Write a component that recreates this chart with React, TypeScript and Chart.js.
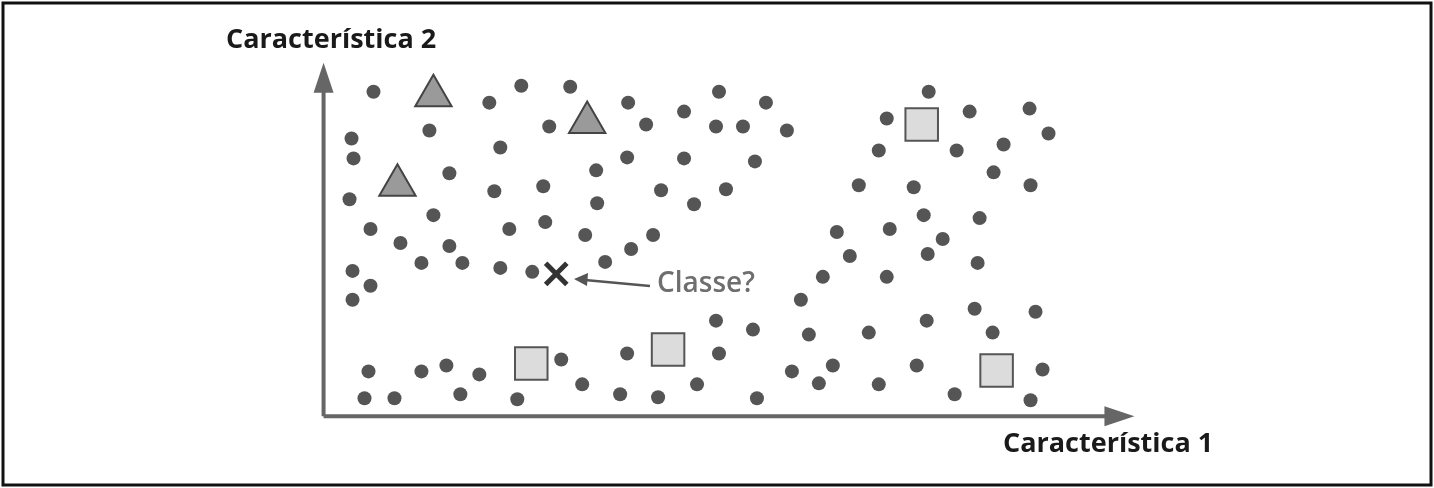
import React, { useEffect, useRef } from 'react';
import { Chart, registerables } from 'chart.js';

Chart.register(...registerables);

// positions, origin at the axes' corner (x right, y up)
const dotsPx: [number, number][] = [
  [373, 91], [351, 138], [353, 158], [349, 199], [370, 229], [400, 243], [421, 263], [449, 246], [462, 263], [433, 215],
  [449, 173], [429, 130], [489, 102], [521, 85], [570, 86], [549, 126], [500, 147], [494, 191], [543, 186], [545, 222],
  [509, 229], [500, 268], [532, 272], [596, 170], [597, 203], [585, 235], [605, 262], [631, 249], [653, 235], [627, 157],
  [628, 102], [646, 124], [684, 111], [719, 91], [716, 126], [743, 126], [766, 102], [787, 130], [755, 161], [726, 189],
  [694, 204], [661, 190], [684, 158], [352, 271], [370, 286], [352, 300],
  [368, 372], [364, 399], [394, 399], [421, 372], [446, 366], [460, 395], [479, 375], [517, 400], [561, 360], [582, 385],
  [620, 395], [627, 354], [658, 398], [697, 385], [716, 321], [753, 330], [719, 354], [757, 399], [792, 372], [819, 384],
  [833, 366], [809, 335], [801, 300], [823, 277], [850, 256], [837, 232], [869, 333], [879, 385], [887, 277], [890, 229],
  [917, 366], [927, 321], [955, 395], [975, 309], [993, 333], [1031, 401], [1043, 370], [1036, 312], [978, 263],
  [929, 91], [887, 118], [970, 111], [1030, 108], [1049, 133], [957, 150], [1004, 144], [879, 150], [859, 185], [914, 187],
  [994, 172], [1031, 185], [924, 215], [980, 218], [943, 239], [928, 254],
];
const trianglesPx: [number, number][] = [[433, 95], [587, 122], [397, 185]];
const squaresPx: [number, number][] = [[922, 124], [531, 364], [668, 350], [997, 371]];
const queryPx: [number, number][] = [[556, 274]];

const ORIGIN_X = 323;
const ORIGIN_Y = 417;
const toPoint = ([px, py]: [number, number]) => ({ x: px - ORIGIN_X, y: ORIGIN_Y - py });

const xTitle = 'Característica 1';
const yTitle = 'Característica 2';
const queryLabel = 'Classe?';

// chart.js pads the area by the largest point radius + half border
const PAD = 24;

const decor = {
  id: 'decor',
  afterDatasetsDraw(chart: any) {
    const { ctx } = chart;
    const X = (v: number) => chart.scales.x.getPixelForValue(v);
    const Y = (v: number) => chart.scales.y.getPixelForValue(v);
    ctx.save();
    // frame
    ctx.strokeStyle = '#111';
    ctx.lineWidth = 3;
    ctx.strokeRect(3, 3, 1428, 482);
    // axes
    ctx.strokeStyle = '#666';
    ctx.fillStyle = '#666';
    ctx.lineWidth = 4;
    ctx.beginPath();
    ctx.moveTo(X(0), Y(0));
    ctx.lineTo(X(0), Y(330));
    ctx.moveTo(X(0), Y(0));
    ctx.lineTo(X(790), Y(0));
    ctx.stroke();
    ctx.beginPath();
    ctx.moveTo(X(0), Y(355));
    ctx.lineTo(X(-10), Y(325));
    ctx.lineTo(X(10), Y(325));
    ctx.closePath();
    ctx.fill();
    ctx.beginPath();
    ctx.moveTo(X(812), Y(0));
    ctx.lineTo(X(782), Y(-10));
    ctx.lineTo(X(782), Y(10));
    ctx.closePath();
    ctx.fill();
    // titles
    ctx.fillStyle = '#1a1a1a';
    ctx.font = 'bold 27px "Open Sans", sans-serif';
    ctx.textBaseline = 'middle';
    ctx.textAlign = 'left';
    ctx.fillText(yTitle, 226, 40);
    ctx.fillText(xTitle, 1003, 444);
    // query arrow and label
    ctx.strokeStyle = '#555';
    ctx.fillStyle = '#555';
    ctx.lineWidth = 2.5;
    ctx.beginPath();
    ctx.moveTo(650, 286);
    ctx.lineTo(585, 280);
    ctx.stroke();
    ctx.beginPath();
    ctx.moveTo(574, 279);
    ctx.lineTo(588, 273);
    ctx.lineTo(587, 286);
    ctx.closePath();
    ctx.fill();
    ctx.fillStyle = '#6e6e6e';
    ctx.font = '600 28px "Open Sans", sans-serif';
    ctx.fillText(queryLabel, 657, 284);
    ctx.restore();
  },
};

export default function App() {
  const ref = useRef<HTMLCanvasElement>(null);
  useEffect(() => {
    document.body.style.margin = '0';
    if (!ref.current) return;
    const chart = new Chart(ref.current, {
      type: 'scatter',
      data: {
        datasets: [
          { data: dotsPx.map(toPoint), pointRadius: 7, backgroundColor: '#555', borderColor: '#555', borderWidth: 0 },
          { data: trianglesPx.map(toPoint), pointStyle: 'triangle', pointRadius: 21, backgroundColor: '#9a9a9a', borderColor: '#444', borderWidth: 2 },
          { data: squaresPx.map(toPoint), pointStyle: 'rect', pointRadius: 23, backgroundColor: '#dcdcdc', borderColor: '#555', borderWidth: 2 },
          { data: queryPx.map(toPoint), pointStyle: 'crossRot', pointRadius: 15, borderColor: '#333', borderWidth: 5 },
        ],
      },
      options: {
        responsive: false,
        animation: false,
        layout: { padding: 0 },
        plugins: { legend: { display: false }, tooltip: { enabled: false } },
        scales: {
          x: { type: 'linear', min: PAD - ORIGIN_X, max: 1434 - PAD - ORIGIN_X, display: false },
          y: { type: 'linear', min: ORIGIN_Y - (488 - PAD), max: ORIGIN_Y - PAD, display: false },
        },
      },
      plugins: [decor],
    });
    return () => chart.destroy();
  }, []);
  return (
    <div style={{ width: 1434, height: 488, background: '#fff' }}>
      <canvas ref={ref} width={1434} height={488} />
    </div>
  );
}
